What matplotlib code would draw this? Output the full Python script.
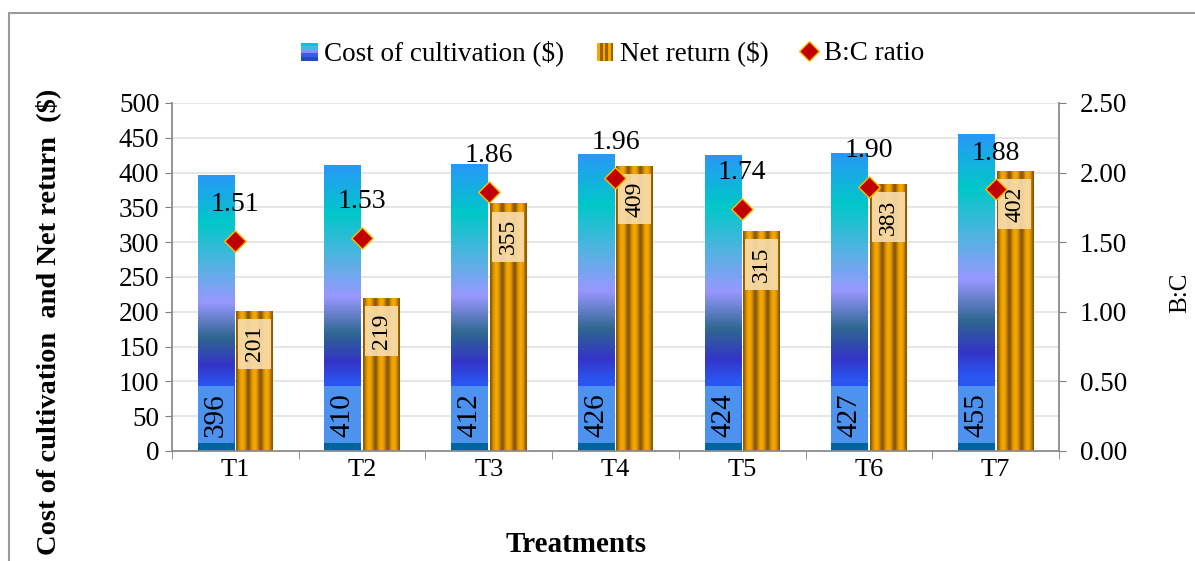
import numpy as np
import matplotlib.pyplot as plt
from matplotlib.patches import Rectangle
from matplotlib.legend_handler import HandlerBase
from matplotlib.colors import LinearSegmentedColormap
from matplotlib.lines import Line2D

plt.rcParams['font.family'] = ['Liberation Serif', 'DejaVu Serif']

treatments = ['T1', 'T2', 'T3', 'T4', 'T5', 'T6', 'T7']
cost = [396, 410, 412, 426, 424, 427, 455]
net_return = [201, 219, 355, 409, 315, 383, 402]
bc_ratio = [1.51, 1.53, 1.86, 1.96, 1.74, 1.90, 1.88]

# gradient for the cost bars (fraction of bar height -> colour)
grad_stops = [(0.0, '#00649f'), (0.03, '#00649f'), (0.031, '#2a60f0'),
              (0.24, '#2a55f0'), (0.31, '#3434c8'), (0.41, '#2e6690'),
              (0.54, '#9898ff'), (0.68, '#50b4e0'), (0.83, '#00c8c8'),
              (1.0, '#2898f8')]
cost_cmap = LinearSegmentedColormap.from_list('cost', grad_stops)
stripe_cmap = LinearSegmentedColormap.from_list(
    'stripe', [(0, '#8a5800'), (0.45, '#d08a00'), (1, '#f5a800')])

fig = plt.figure(figsize=(11.95, 5.61), dpi=100)
ax = fig.add_axes([0.1439, 0.1961, 0.7423, 0.6203])
ax2 = ax.twinx()

x = np.arange(len(treatments))
w = 0.29
off = 0.152

grad = np.linspace(0, 1, 256).reshape(-1, 1)
stripe = (0.5 - 0.5 * np.cos(np.linspace(0, 6 * np.pi, 120))).reshape(1, -1)

for i in range(len(x)):
    c0 = x[i] - off - w / 2
    ax.imshow(grad, cmap=cost_cmap, origin='lower', aspect='auto',
              extent=[c0, c0 + w, 0, cost[i]], zorder=2, interpolation='bilinear')
    n0 = x[i] + off - w / 2
    ax.imshow(stripe, cmap=stripe_cmap, aspect='auto',
              extent=[n0, n0 + w, 0, net_return[i]], zorder=2, interpolation='bilinear')
    # cost label near base
    ax.add_patch(Rectangle((c0, 11), w, 82, facecolor='#5096ee', edgecolor='none',
                           alpha=0.95, zorder=3))
    ax.text(x[i] - off, 52, str(cost[i]), rotation=90, ha='center', va='center',
            fontsize=21, zorder=4)
    # net label near top
    ax.add_patch(Rectangle((n0 + 0.015, net_return[i] - 83), w - 0.03, 72,
                           facecolor='#f8dcaa', edgecolor='none', alpha=0.92, zorder=3))
    ax.text(x[i] + off, net_return[i] - 47, str(net_return[i]), rotation=90,
            ha='center', va='center', fontsize=17, zorder=4)

ax.set_xlim(-0.5, 6.5)
ax.set_ylim(0, 500)
ax.set_yticks(np.arange(0, 501, 50))
ax.set_xticks(x)
ax.set_xticklabels(treatments, fontsize=19)
ax.set_xticks(np.arange(-0.5, 7, 1), minor=True)
ax.tick_params(axis='x', which='major', length=0, pad=6)
ax.tick_params(axis='x', which='minor', length=6, color='#808080', direction='out')
ax.tick_params(axis='y', labelsize=19.5, length=5, color='#808080', pad=4)
ax.grid(axis='y', color='#e2e2e2', linewidth=1.2, zorder=0)
ax.set_axisbelow(True)
for s in ['top', 'right']:
    ax.spines[s].set_visible(False)
for s in ['left', 'bottom']:
    ax.spines[s].set_color('#8c8c8c')
    ax.spines[s].set_linewidth(1.3)

ax2.scatter(x, bc_ratio, marker='D', s=120, color='#c00000', edgecolor='#ffc000',
            linewidth=1.0, zorder=5)
for i in range(len(x)):
    ax2.annotate('%.2f' % bc_ratio[i], (x[i], bc_ratio[i]), xytext=(0, 26),
                 textcoords='offset points', ha='center', va='center', fontsize=20)
ax2.set_ylim(0, 2.5)
ax2.set_yticks(np.arange(0, 2.51, 0.5))
ax2.set_yticklabels(['%.2f' % v for v in np.arange(0, 2.51, 0.5)])
ax2.tick_params(axis='y', labelsize=19.5, length=5, color='#808080', pad=10)
for s in ['top', 'left', 'bottom']:
    ax2.spines[s].set_visible(False)
ax2.spines['right'].set_color('#8c8c8c')
ax2.spines['right'].set_linewidth(1.3)


class GradHandler(HandlerBase):
    def __init__(self, cols):
        super().__init__()
        self.cols = cols

    def create_artists(self, legend, orig, xd, yd, width, height, fontsize, trans):
        n = len(self.cols)
        arts = []
        for k, c in enumerate(self.cols):
            arts.append(Rectangle((xd, yd + height * k / n), width, height / n,
                                  facecolor=c, edgecolor='none', transform=trans))
        return arts


class StripeHandler(HandlerBase):
    def create_artists(self, legend, orig, xd, yd, width, height, fontsize, trans):
        n = 6
        arts = []
        for k in range(n):
            c = '#f5a800' if k % 2 == 0 else '#9a6200'
            arts.append(Rectangle((xd + width * k / n, yd), width / n, height,
                                  facecolor=c, edgecolor='none', transform=trans))
        return arts


h_cost = Rectangle((0, 0), 1, 1)
h_net = Rectangle((0, 0), 1, 1)
h_bc = Line2D([], [], marker='D', linestyle='none', markersize=10,
              markerfacecolor='#c00000', markeredgecolor='#ffc000')
fig.legend([h_cost, h_net, h_bc], ['Cost of cultivation ($)', 'Net return ($)', 'B:C ratio'],
           loc='center', bbox_to_anchor=(0.513, 0.905), ncol=3, frameon=False,
           fontsize=19.5, handlelength=0.6, handleheight=0.65, handletextpad=0.25,
           columnspacing=1.2,
           handler_map={h_cost: GradHandler(['#1f4fb0', '#3a5ae8', '#8a8ef8', '#40b8e8', '#00c8d8']),
                        h_net: StripeHandler()})

fig.text(48 / 1195, 1 - 322 / 561, 'Cost of cultivation  and Net return  ($)',
         rotation=90, ha='center', va='center', fontsize=20.5, fontweight='bold')
fig.text(1180 / 1195, 1 - 293 / 561, 'B:C', rotation=90, ha='center', va='center',
         fontsize=18)
fig.text(576 / 1195, 1 - 545 / 561, 'Treatments', ha='center', va='center',
         fontsize=21, fontweight='bold')

fig.patches.append(Rectangle((9 / 1195, -0.1), 1.2, 1 - 13 / 561 + 0.1,
                             transform=fig.transFigure, fill=False,
                             edgecolor='#9a9a9a', linewidth=1.5))

fig.savefig('out.png', dpi=100)
